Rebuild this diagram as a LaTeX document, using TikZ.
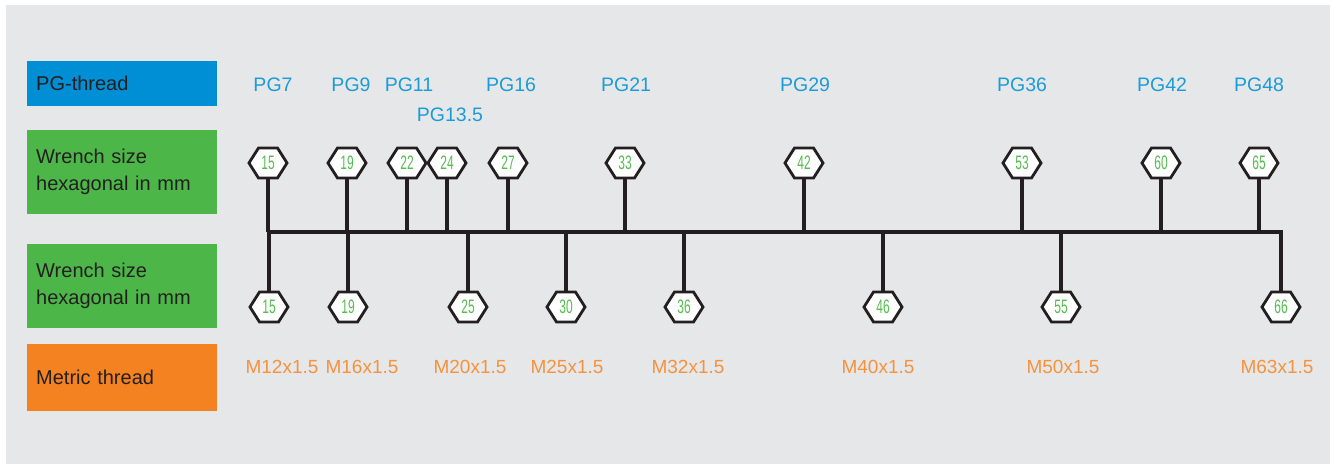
\documentclass[tikz,border=0pt]{standalone}
\usepackage{fontspec}
\setmainfont{Liberation Sans}
\newfontfamily\condfont[FakeStretch=0.56]{Liberation Sans}
\usetikzlibrary{shapes.geometric}
\definecolor{bg}{HTML}{E6E7E8}
\definecolor{ink}{HTML}{231F20}
\definecolor{pgbox}{HTML}{008FD5}
\definecolor{grbox}{HTML}{4CB748}
\definecolor{orbox}{HTML}{F58220}
\definecolor{pgtext}{HTML}{1B9BD7}
\definecolor{mtext}{HTML}{F5923E}
\definecolor{hexgreen}{HTML}{56BD4F}
\tikzset{
  catbox/.style={rectangle, anchor=west, minimum width=190pt, text width=172pt,
    inner xsep=9pt, inner ysep=0pt, align=left,
    font=\fontsize{20}{27}\selectfont, text=ink},
  hexnode/.style={regular polygon, regular polygon sides=6, minimum size=34.6pt,
    inner sep=0pt, draw=ink, line width=2.8pt, fill=white, xscale=1.1,
    font=\condfont\fontsize{19.5}{19.5}\selectfont, text=hexgreen},
  pglabel/.style={anchor=base, text=pgtext, font=\fontsize{19.5}{19.5}\selectfont},
  mlabel/.style={anchor=base, text=mtext, font=\fontsize{19}{19}\selectfont},
  wire/.style={draw=ink, line width=3.6pt}
}
\begin{document}
\begin{tikzpicture}[x=1pt,y=-1pt]
\useasboundingbox (0,0) rectangle (1336,464);
\fill[white] (0,0) rectangle (1336,464);
\fill[bg] (6,5) rectangle (1330,464);

% category boxes
\node[catbox, fill=pgbox, minimum height=45pt] (cpg) at (27,83.5) {PG-thread};
\node[catbox, fill=grbox, minimum height=84pt] (cw1) at (27,172) {Wrench size\\hexagonal in mm};
\node[catbox, fill=grbox, minimum height=84pt] (cw2) at (27,286) {Wrench size\\hexagonal in mm};
\node[catbox, fill=orbox, minimum height=67pt] (cm) at (27,377.5) {Metric thread};

% bus
\coordinate (busL) at (268,232);
\coordinate (busR) at (1283,232);
\draw[wire] (busL) -- (busR);

% top hexagons (PG) with stems
\foreach \x/\n in {268/15,347/19,407/22,447/24,508/27,625/33,804/42,1022/53,1161/60,1259/65}{
  \node[hexnode] (t\n) at (\x,163) {\n};
  \draw[wire] (t\n.south) -- (t\n.south |- busL);
}
% bottom hexagons (metric) with stems
\foreach \x/\n in {269/15,348/19,468/25,566/30,684/36,883/46,1061/55,1281/66}{
  \node[hexnode] (b\n) at (\x,307) {\n};
  \draw[wire] (b\n.north |- busL) -- (b\n.north);
}

% PG labels
\node[pglabel] (pg7) at (273,91) {PG7};
\node[pglabel] (pg9) at (351,91) {PG9};
\node[pglabel] (pg11) at (409,91) {PG11};
\node[pglabel] (pg135) at (450,121) {PG13.5};
\node[pglabel] (pg16) at (511,91) {PG16};
\node[pglabel] (pg21) at (626,91) {PG21};
\node[pglabel] (pg29) at (805,91) {PG29};
\node[pglabel] (pg36) at (1022,91) {PG36};
\node[pglabel] (pg42) at (1162,91) {PG42};
\node[pglabel] (pg48) at (1259,91) {PG48};

% metric labels
\node[mlabel] (m12) at (282,373) {M12x1.5};
\node[mlabel] (m16) at (362,373) {M16x1.5};
\node[mlabel] (m20) at (470,373) {M20x1.5};
\node[mlabel] (m25) at (567,373) {M25x1.5};
\node[mlabel] (m32) at (688,373) {M32x1.5};
\node[mlabel] (m40) at (878,373) {M40x1.5};
\node[mlabel] (m50) at (1063,373) {M50x1.5};
\node[mlabel] (m63) at (1277,373) {M63x1.5};
\end{tikzpicture}
\end{document}
